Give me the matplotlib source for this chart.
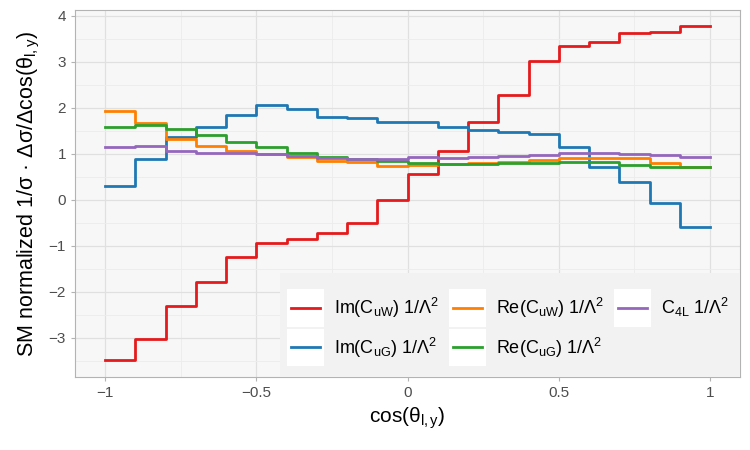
import numpy as np
import matplotlib.pyplot as plt
from matplotlib.legend_handler import HandlerLine2D
from matplotlib.patches import Rectangle

plt.rcParams['font.family'] = ['Liberation Sans', 'DejaVu Sans']
plt.rcParams['mathtext.fontset'] = 'custom'
plt.rcParams['mathtext.rm'] = 'Liberation Sans'
plt.rcParams['mathtext.it'] = 'Liberation Sans:italic'

# bin edges of cos(theta_l,y)
edges = np.linspace(-1, 1, 21)

im_cuw = [-3.48, -3.02, -2.30, -1.79, -1.23, -0.93, -0.85, -0.71, -0.51, 0.00,
          0.57, 1.07, 1.70, 2.28, 3.03, 3.35, 3.43, 3.62, 3.65, 3.77]
im_cug = [0.31, 0.89, 1.36, 1.59, 1.85, 2.06, 1.98, 1.81, 1.79, 1.70,
          1.70, 1.59, 1.51, 1.47, 1.43, 1.15, 0.71, 0.38, -0.07, -0.58]
re_cuw = [1.93, 1.68, 1.33, 1.18, 1.07, 1.00, 0.93, 0.85, 0.82, 0.74,
          0.76, 0.78, 0.80, 0.82, 0.87, 0.91, 0.91, 0.91, 0.81, 0.72]
re_cug = [1.59, 1.62, 1.55, 1.41, 1.25, 1.15, 1.02, 0.93, 0.88, 0.84,
          0.81, 0.78, 0.78, 0.80, 0.81, 0.83, 0.82, 0.76, 0.72, 0.71]
c4l = [1.15, 1.17, 1.07, 1.02, 1.01, 0.99, 0.95, 0.91, 0.88, 0.88,
       0.94, 0.92, 0.94, 0.96, 0.98, 1.01, 1.03, 1.00, 0.98, 0.93]

series = [
    (im_cuw, r'Im(C$_{\mathrm{uW}}$) 1/Λ$^{\mathrm{2}}$', '#e41a1c'),
    (im_cug, r'Im(C$_{\mathrm{uG}}$) 1/Λ$^{\mathrm{2}}$', '#1f78b4'),
    (re_cuw, r'Re(C$_{\mathrm{uW}}$) 1/Λ$^{\mathrm{2}}$', '#ff7f00'),
    (re_cug, r'Re(C$_{\mathrm{uG}}$) 1/Λ$^{\mathrm{2}}$', '#2ca02c'),
    (c4l, r'C$_{\mathrm{4L}}$ 1/Λ$^{\mathrm{2}}$', '#9467bd'),
]


class BoxedLine(HandlerLine2D):
    # ggplot-style key: white box behind the line
    def create_artists(self, legend, orig_handle, xdescent, ydescent,
                       width, height, fontsize, trans):
        box = Rectangle((-xdescent - 3, -ydescent - 9), width + 6, height + 18,
                        facecolor='white', edgecolor='none', transform=trans)
        arts = super().create_artists(legend, orig_handle, xdescent, ydescent,
                                      width, height, fontsize, trans)
        return [box] + list(arts)


fig = plt.figure(figsize=(7.5, 4.5), dpi=100)
ax = fig.add_axes([0.1, 0.162, 0.887, 0.816])
ax.set_facecolor('#f7f7f7')

for vals, lab, col in series:
    ax.step(edges, list(vals) + [vals[-1]], where='post', color=col, lw=2, label=lab)

ax.set_xlim(-1.1, 1.1)
ax.set_ylim(-3.85, 4.13)
ax.set_xticks([-1, -0.5, 0, 0.5, 1])
ax.set_xticklabels(['\u22121', '\u22120.5', '0', '0.5', '1'])
ax.set_yticks(range(-3, 5))
ax.set_yticklabels([str(v).replace('-', '\u2212') for v in range(-3, 5)])
ax.set_xticks([-0.75, -0.25, 0.25, 0.75], minor=True)
ax.set_yticks(np.arange(-3.5, 4.0, 1.0), minor=True)
ax.grid(which='major', color='#e0e0e0', lw=0.9)
ax.grid(which='minor', color='#ececec', lw=0.6)
ax.set_axisbelow(True)
for s in ax.spines.values():
    s.set_color('#b3b3b3')
ax.tick_params(which='major', colors='#b3b3b3', labelcolor='#4d4d4d', labelsize=11, length=3)
ax.tick_params(which='minor', length=0)

ax.set_xlabel(r'cos(θ$_{\mathrm{l,y}}$)', fontsize=15, labelpad=4)
ax.set_ylabel(r'SM normalized 1/σ · Δσ/Δcos(θ$_{\mathrm{l,y}}$)', fontsize=15.5, labelpad=5)

# legend background block in the lower right corner of the panel
lx, ly = 0.308, 0.284
ax.add_patch(Rectangle((lx, 0), 1 - lx, ly, transform=ax.transAxes,
                       facecolor='#f2f2f2', edgecolor='none', zorder=3))
leg = ax.legend(ncol=3, loc='center', bbox_to_anchor=(lx, -0.008, 1 - lx, ly),
                bbox_transform=ax.transAxes, fontsize=13, frameon=False,
                handlelength=1.6, handletextpad=0.8, columnspacing=0.75,
                labelspacing=0.85, borderpad=0.3,
                handler_map={plt.Line2D: BoxedLine()})
leg.set_zorder(4)

fig.savefig('out.png', dpi=100)
